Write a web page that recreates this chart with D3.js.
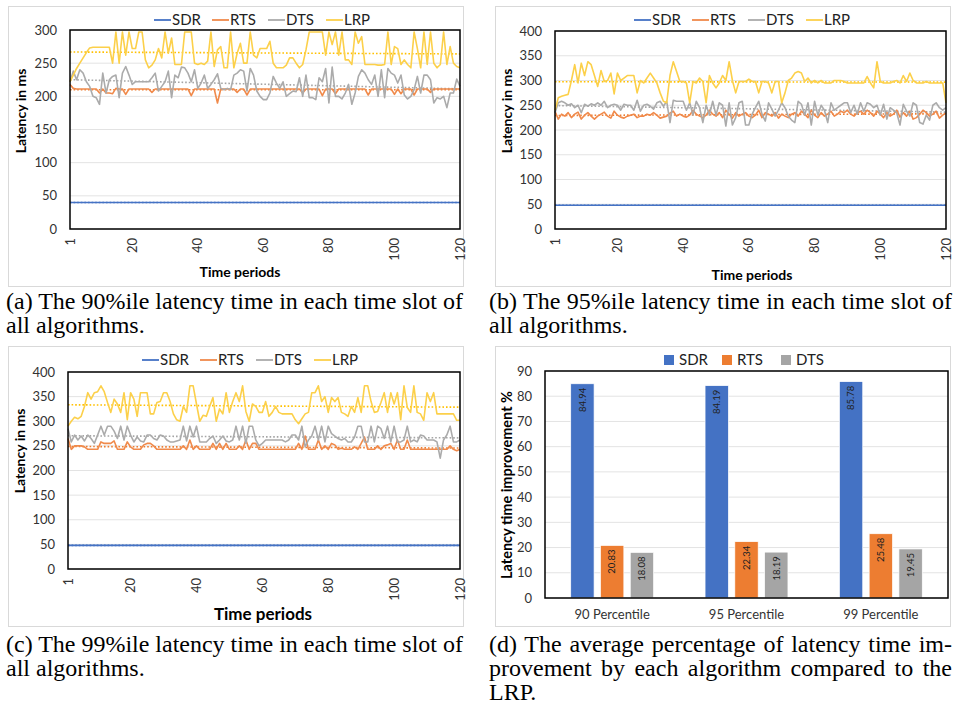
<!DOCTYPE html>
<html>
<head>
<meta charset="utf-8">
<script src="https://cdn.jsdelivr.net/npm/d3@7"></script>
<style>
  body { margin: 0; background: #fff; }
  svg { display: block; }
  .tick-label { font-family: Lato, "Open Sans", sans-serif; fill: #333; }
  .caption { font-family: "Liberation Serif", "Times New Roman", serif; font-size: 24px; fill: #000; }
</style>
</head>
<body>
<svg id="fig" width="956" height="705"></svg>
<script>
// ---- data ----
var seriesNames = ["SDR", "RTS", "DTS", "LRP"];
var colors = { SDR: "#4472C4", RTS: "#ED7D31", DTS: "#A5A5A5", LRP: "#FFC000" };
var lineColors = { SDR: "#4472C4", RTS: "#F08A4B", DTS: "#ABABAB", LRP: "#FCD04A" };
var xTicks = [1, 20, 40, 60, 80, 100, 120];

// (a) 90 percentile
var sdrA = 40;
var rtsA = [218,212,211,211,211,211,211,211,211,205,211,205,205,204,212,211,211,203,211,211,
            211,211,211,211,211,206,211,211,211,211,211,211,211,211,211,211,211,201,211,211,
            211,211,211,211,211,190,211,211,211,211,211,206,211,211,202,211,211,211,211,211,
            211,211,211,211,211,211,211,211,211,211,211,205,211,211,211,211,211,201,211,211,
            211,204,211,211,211,211,211,211,211,211,211,202,211,211,211,211,211,211,211,203,
            211,204,211,211,211,202,211,211,211,211,206,211,211,211,211,211,211,211,211,211];
var dtsA = [222,238,225,240,235,222,215,200,198,188,235,205,225,230,232,198,235,245,232,218,
            222,222,222,222,222,228,235,208,215,222,238,198,232,228,244,243,235,222,240,212,
            220,232,212,218,225,234,212,210,212,210,232,235,240,238,208,242,232,208,200,195,
            195,205,230,220,212,222,200,204,208,207,228,200,232,198,198,195,228,222,242,190,
            244,200,200,196,205,218,188,205,230,240,235,225,218,232,200,240,198,242,235,232,
            220,232,202,196,200,210,230,205,232,232,225,190,198,196,200,183,205,205,226,215];
var lrpA = [222,232,242,250,258,266,273,274,274,274,274,274,274,250,297,250,297,262,297,272,
            272,297,297,255,243,247,255,272,258,297,265,288,248,248,248,297,297,297,250,248,
            250,248,253,297,245,270,275,243,243,297,243,265,280,250,250,297,262,258,272,272,
            272,283,250,243,243,243,247,258,258,250,243,248,270,297,297,297,297,297,262,297,
            278,297,262,297,255,255,248,297,280,290,248,248,248,248,247,247,248,297,248,275,
            272,248,255,248,243,297,272,243,297,248,297,250,243,248,297,248,275,250,245,243];

// (b) 95 percentile
var sdrB = 48;
var rtsB = [238,222,232,228,235,225,232,236,222,230,235,228,222,228,232,236,228,224,238,230,
            226,224,228,230,232,225,228,228,232,230,235,230,224,226,228,234,238,228,232,228,
            226,230,240,232,228,225,230,240,232,228,235,225,240,232,224,235,228,232,235,228,
            225,230,240,225,235,232,228,235,224,232,228,225,232,235,228,238,232,225,240,230,
            225,235,228,232,238,228,232,238,235,240,232,228,235,238,232,240,235,228,238,232,
            225,235,228,232,240,226,235,228,238,222,225,232,240,235,228,232,238,224,230,234];
var dtsB = [235,255,258,255,250,253,245,250,235,252,248,253,250,255,250,258,245,250,252,250,
            240,252,250,250,240,260,238,250,252,248,242,255,258,248,258,215,260,258,258,258,
            240,255,230,258,245,215,250,230,258,230,255,250,208,255,210,225,255,258,210,210,
            232,245,258,232,218,255,242,228,240,255,245,228,220,215,258,252,230,255,210,258,
            230,250,240,215,255,240,245,250,255,255,235,250,232,255,238,255,252,245,250,230,
            252,222,245,240,235,210,252,238,228,255,250,215,212,230,220,250,255,245,240,245];
var lrpB = [240,265,268,270,272,300,332,295,335,310,338,332,310,288,320,298,300,315,273,315,
            300,305,310,310,310,275,300,295,305,315,305,295,275,258,255,310,338,318,298,298,
            295,255,298,295,305,298,255,310,295,285,295,310,300,338,300,275,298,298,298,303,
            298,298,275,298,298,295,275,298,298,255,275,300,305,315,318,315,298,305,295,300,
            295,300,295,295,295,300,300,300,298,295,295,295,295,295,295,308,295,285,338,298,
            295,295,295,298,300,295,310,298,315,300,295,295,295,298,295,295,295,295,295,255];

// (c) 99 percentile
var sdrC = 48;
var rtsC = [265,243,250,250,250,248,243,243,243,243,258,255,255,255,260,243,243,243,258,248,
            243,243,243,252,255,255,250,243,243,243,243,243,243,243,243,250,243,262,243,250,
            243,243,243,243,255,243,255,243,255,243,243,243,250,243,262,243,255,255,243,243,
            243,243,243,243,243,243,243,243,243,243,255,243,270,243,243,243,262,243,250,243,
            255,252,243,245,243,243,243,248,243,255,268,243,243,243,250,243,250,252,255,243,
            262,243,243,262,243,243,243,243,243,243,243,243,243,243,243,243,250,243,240,243];
var dtsC = [285,258,272,262,270,260,272,265,255,272,290,272,290,290,280,265,290,262,290,272,
            258,268,260,258,272,272,265,262,272,270,262,258,258,260,262,290,260,290,268,290,
            258,258,258,265,270,255,262,270,260,258,262,290,262,290,255,290,290,262,250,255,
            262,262,262,262,262,262,258,262,272,272,262,290,248,262,270,290,262,290,258,290,
            275,270,265,262,265,258,258,268,290,290,258,258,290,258,290,285,265,290,258,290,
            258,258,262,290,258,262,258,272,270,262,262,262,258,225,262,272,290,258,258,262];
var lrpC = [290,300,308,305,310,330,358,345,358,360,372,360,338,318,345,335,318,358,303,358,
            345,310,358,358,358,315,315,338,340,358,358,340,315,303,300,330,318,372,372,335,
            300,312,310,330,348,300,325,315,358,318,340,358,340,372,320,300,335,330,318,318,
            340,310,318,330,318,315,315,315,315,303,295,305,315,318,358,358,372,340,350,318,
            348,340,348,318,315,310,330,318,348,318,372,372,340,318,320,338,358,318,358,335,
            358,303,372,328,318,372,318,315,302,358,340,358,315,315,315,315,315,315,302,302];

// (d) improvement vs LRP
var barCategories = ["90 Percentile", "95 Percentile", "99 Percentile"];
var barSeries = ["SDR", "RTS", "DTS"];
var sdrImp = [84.94, 84.19, 85.78];
var rtsImp = [20.83, 22.34, 25.48];
var dtsImp = [18.08, 18.19, 19.45];

var periods = d3.range(1, 121);
var svg = d3.select("#fig");

function regression(vals) {
  var n = vals.length;
  var mx = d3.mean(periods), my = d3.mean(vals);
  var sxy = 0, sxx = 0;
  for (var i = 0; i < n; i++) {
    sxy += (periods[i] - mx) * (vals[i] - my);
    sxx += (periods[i] - mx) * (periods[i] - mx);
  }
  var b = sxy / sxx;
  return function(t) { return my + b * (t - mx); };
}

function drawLinePanel(p) {
  var g = svg.append("g");

  g.append("rect")
      .attr("x", p.box[0] + 0.5).attr("y", p.box[1] + 0.5)
      .attr("width", p.box[2] - p.box[0]).attr("height", p.box[3] - p.box[1])
      .attr("fill", "#fff").attr("stroke", "#D9D9D9");

  var x = d3.scaleLinear().domain([1, 120]).range([p.plot[0], p.plot[2]]);
  var y = d3.scaleLinear().domain([0, p.yMax]).range([p.plot[3], p.plot[1]]);
  var yTicks = d3.range(0, p.yMax + 1, 50);

  g.append("g").selectAll("line")
    .data(yTicks)
    .enter().append("line")
      .attr("x1", p.plot[0]).attr("x2", p.plot[2])
      .attr("y1", d => y(d)).attr("y2", d => y(d))
      .attr("stroke", "#E3E3E3").attr("stroke-width", 1);

  g.append("g").selectAll("text")
    .data(yTicks)
    .enter().append("text")
      .classed("tick-label", true)
      .attr("x", p.plot[0] - 13)
      .attr("y", d => y(d))
      .attr("dy", "0.35em")
      .attr("font-size", 13)
      .style("text-anchor", "end")
      .text(d => d);

  g.append("g").selectAll("text")
    .data(xTicks)
    .enter().append("text")
      .classed("tick-label", true)
      .attr("transform", d => "translate(" + x(d) + "," + (p.plot[3] + 9) + ") rotate(-90)")
      .attr("dy", "0.35em")
      .attr("font-size", 13)
      .style("text-anchor", "end")
      .text(d => d);

  var line = d3.line()
               .x((d, i) => x(periods[i]))
               .y(d => y(d));

  // trend lines (dotted)
  p.series.forEach(s => {
    var f = regression(s.values);
    g.append("line")
        .attr("x1", x(1)).attr("x2", x(120))
        .attr("y1", y(f(1))).attr("y2", y(f(120)))
        .attr("stroke", colors[s.name])
        .attr("stroke-width", 1.6)
        .attr("stroke-dasharray", "1.6,2");
  });

  p.series.forEach(s => {
    g.append("path")
        .datum(s.values)
        .attr("d", line)
        .attr("fill", "none")
        .attr("stroke", lineColors[s.name])
        .attr("stroke-width", 1.6)
        .attr("stroke-linejoin", "round");
  });

  g.append("rect")
      .attr("x", p.plot[0]).attr("y", p.plot[1])
      .attr("width", p.plot[2] - p.plot[0]).attr("height", p.plot[3] - p.plot[1])
      .attr("fill", "none").attr("stroke", "#000").attr("stroke-width", 1.5);

  // legend
  var offsets = [0, 58, 114, 172];
  var leg = g.append("g").selectAll("g")
    .data(seriesNames)
    .enter().append("g")
      .attr("transform", (d, i) => "translate(" + (p.legendX + offsets[i]) + "," + p.legendY + ")");
  leg.append("line")
      .attr("x1", 0).attr("x2", 17)
      .attr("stroke", d => lineColors[d]).attr("stroke-width", 1.8);
  leg.append("text")
      .classed("tick-label", true)
      .attr("x", 18).attr("dy", "0.36em")
      .attr("font-size", 15)
      .style("fill", "#222")
      .text(d => d);

  g.append("text")
      .classed("tick-label", true)
      .attr("transform", "translate(" + p.yLabel[0] + "," + p.yLabel[1] + ") rotate(-90)")
      .attr("dy", "0.35em")
      .attr("font-size", 14)
      .attr("font-weight", "bold")
      .style("fill", "#000")
      .style("text-anchor", "middle")
      .text("Latency in ms");

  g.append("text")
      .classed("tick-label", true)
      .attr("x", p.xLabel[0]).attr("y", p.xLabel[1])
      .attr("dy", "0.35em")
      .attr("font-size", p.xLabelSize)
      .attr("font-weight", "bold")
      .style("fill", "#000")
      .style("text-anchor", "middle")
      .text("Time periods");
}

function flat(v) { return periods.map(() => v); }

drawLinePanel({
  box: [8, 6, 463, 286], plot: [70, 30, 460, 229], yMax: 300,
  legendX: 154, legendY: 20, yLabel: [21, 111], xLabel: [240, 272], xLabelSize: 14,
  series: [{ name: "SDR", values: flat(sdrA) }, { name: "RTS", values: rtsA },
           { name: "DTS", values: dtsA }, { name: "LRP", values: lrpA }]
});
drawLinePanel({
  box: [495, 6, 950, 286], plot: [555, 31, 946, 229], yMax: 400,
  legendX: 634, legendY: 20, yLabel: [507, 111], xLabel: [752, 275], xLabelSize: 14,
  series: [{ name: "SDR", values: flat(sdrB) }, { name: "RTS", values: rtsB },
           { name: "DTS", values: dtsB }, { name: "LRP", values: lrpB }]
});
drawLinePanel({
  box: [8, 346, 463, 626], plot: [68, 372, 460, 569], yMax: 400,
  legendX: 142, legendY: 360, yLabel: [20, 451], xLabel: [263, 614], xLabelSize: 17,
  series: [{ name: "SDR", values: flat(sdrC) }, { name: "RTS", values: rtsC },
           { name: "DTS", values: dtsC }, { name: "LRP", values: lrpC }]
});

// ---- (d) bar chart ----
function drawBarPanel() {
  var box = [495, 346, 950, 626], plot = [545, 371, 948, 598];
  var g = svg.append("g");
  g.append("rect")
      .attr("x", box[0] + 0.5).attr("y", box[1] + 0.5)
      .attr("width", box[2] - box[0]).attr("height", box[3] - box[1])
      .attr("fill", "#fff").attr("stroke", "#D9D9D9");

  var x0 = d3.scaleBand().domain(barCategories).range([plot[0], plot[2]]);
  var x1 = d3.scaleBand().domain(barSeries).range([0, x0.bandwidth()])
             .paddingInner(0.215).paddingOuter(0.864);
  var y = d3.scaleLinear().domain([0, 90]).range([plot[3], plot[1]]);
  var yTicks = d3.range(0, 91, 10);
  var values = { SDR: sdrImp, RTS: rtsImp, DTS: dtsImp };

  g.append("g").selectAll("line")
    .data(yTicks)
    .enter().append("line")
      .attr("x1", plot[0]).attr("x2", plot[2])
      .attr("y1", d => y(d)).attr("y2", d => y(d))
      .attr("stroke", "#E3E3E3");

  g.append("g").selectAll("text")
    .data(yTicks)
    .enter().append("text")
      .classed("tick-label", true)
      .attr("x", plot[0] - 13).attr("y", d => y(d))
      .attr("dy", "0.35em").attr("font-size", 13)
      .style("text-anchor", "end")
      .text(d => d);

  var bars = [];
  barCategories.forEach((c, ci) => {
    barSeries.forEach(s => bars.push({ cat: c, name: s, value: values[s][ci] }));
  });

  g.append("g").selectAll("rect")
    .data(bars)
    .enter().append("rect")
      .attr("x", d => x0(d.cat) + x1(d.name))
      .attr("y", d => y(d.value))
      .attr("width", x1.bandwidth())
      .attr("height", d => y(0) - y(d.value))
      .attr("fill", d => colors[d.name])
      .attr("stroke", "#fff").attr("stroke-width", 0.7);

  g.append("g").selectAll("text")
    .data(bars)
    .enter().append("text")
      .classed("tick-label", true)
      .attr("transform", d => "translate(" + (x0(d.cat) + x1(d.name) + x1.bandwidth() / 2) + "," + (y(d.value) + 4) + ") rotate(-90)")
      .attr("dy", "0.35em")
      .attr("font-size", 9.5)
      .style("fill", "#222")
      .style("text-anchor", "end")
      .text(d => d.value.toFixed(2));

  g.append("rect")
      .attr("x", plot[0]).attr("y", plot[1])
      .attr("width", plot[2] - plot[0]).attr("height", plot[3] - plot[1])
      .attr("fill", "none").attr("stroke", "#000").attr("stroke-width", 1.5);

  g.append("g").selectAll("text")
    .data(barCategories)
    .enter().append("text")
      .classed("tick-label", true)
      .attr("x", d => x0(d) + x0.bandwidth() / 2)
      .attr("y", 614).attr("dy", "0.35em")
      .attr("font-size", 13)
      .style("text-anchor", "middle")
      .text(d => d);

  var legX = [664, 722, 781];
  var leg = g.append("g").selectAll("g")
    .data(barSeries)
    .enter().append("g")
      .attr("transform", (d, i) => "translate(" + legX[i] + ",360)");
  leg.append("rect")
      .attr("x", 0).attr("y", -5).attr("width", 10).attr("height", 10)
      .attr("fill", d => colors[d]);
  leg.append("text")
      .classed("tick-label", true)
      .attr("x", 15).attr("dy", "0.36em")
      .attr("font-size", 15).style("fill", "#222")
      .text(d => d);

  g.append("text")
      .classed("tick-label", true)
      .attr("transform", "translate(507,485) rotate(-90)")
      .attr("dy", "0.35em")
      .attr("font-size", 14.5).attr("font-weight", "bold")
      .style("fill", "#000").style("text-anchor", "middle")
      .text("Latency time improvement %");
}
drawBarPanel();

// ---- captions ----
var captions = [
  { x: 6, y: 309, w: 457, text: "(a) The 90%ile latency time in each time slot of" },
  { x: 6, y: 333, text: "all algorithms." },
  { x: 489, y: 309, w: 463, text: "(b) The 95%ile latency time in each time slot of" },
  { x: 489, y: 333, text: "all algorithms." },
  { x: 6, y: 652, w: 457, text: "(c) The 99%ile latency time in each time slot of" },
  { x: 6, y: 676, text: "all algorithms." },
  { x: 489, y: 652, w: 463, text: "(d) The average percentage of latency time im-" },
  { x: 489, y: 676, w: 463, text: "provement by each algorithm compared to the" },
  { x: 489, y: 700, text: "LRP." }
];
svg.append("g").selectAll("text")
  .data(captions)
  .enter().append("text")
    .classed("caption", true)
    .attr("x", d => d.x).attr("y", d => d.y)
    .text(d => d.text)
    .each(function(d) {
      if (!d.w) return;
      // justify like the paper: stretch the word gaps, shrink if too long
      var natural = this.getComputedTextLength();
      var gaps = d.text.split(" ").length - 1;
      if (natural < d.w) {
        d3.select(this).attr("word-spacing", (d.w - natural) / gaps);
      } else {
        d3.select(this).attr("textLength", d.w).attr("lengthAdjust", "spacingAndGlyphs");
      }
    });
</script>
</body>
</html>
